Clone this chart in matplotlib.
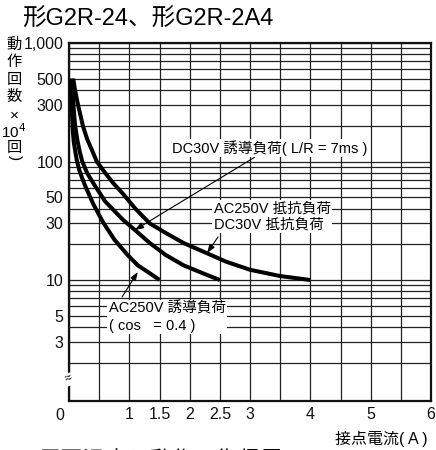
import numpy as np
import matplotlib
matplotlib.use("Agg")
import matplotlib.pyplot as plt
from matplotlib.transforms import ScaledTranslation

plt.rcParams['font.family'] = ['Liberation Sans', 'Noto Sans CJK JP']

# curves: contact current (A) vs operations (x10^4)
ac_ind_x = [0.03, 0.04, 0.05, 0.065, 0.08, 0.1, 0.13, 0.17, 0.22, 0.27, 0.4, 0.56, 0.75, 0.96, 1.14, 1.34, 1.5]
ac_ind_y = [500, 330, 250, 175, 145, 125, 102, 85, 72, 62, 44, 31, 22, 16.5, 13.3, 11.4, 10]

dc_ind_x = [0.05, 0.065, 0.08, 0.1, 0.14, 0.18, 0.22, 0.3, 0.4, 0.6, 0.9, 1.09, 1.34, 1.6, 1.9, 2.2, 2.5]
dc_ind_y = [500, 350, 270, 203, 150, 120, 100, 80, 66, 46, 32, 26.5, 20.5, 16.3, 13.3, 11.5, 10]

res_x = [0.07, 0.1, 0.15, 0.23, 0.3, 0.38, 0.46, 0.6, 0.73, 0.9, 1.1, 1.34, 1.6, 1.9, 2.29, 2.6, 3.0, 3.5, 4.0]
res_y = [500, 400, 300, 200, 155, 125, 100, 80, 66, 53, 40, 30, 25, 20.5, 16.8, 14.3, 12.2, 10.8, 10.0]

x_major = [0, 1, 1.5, 2, 2.5, 3, 4, 5, 6]
x_labels = ["0", "1", "1.5", "2", "2.5", "3", "4", "5", "6"]
x_minor = [0.5, 3.5, 4.5, 5.5]
y_major = [3, 5, 10, 30, 50, 100, 300, 500, 1000]
y_labels = ["3", "5", "10", "30", "50", "100", "300", "500", "1,000"]
y_minor = [2, 4, 6, 7, 8, 9, 20, 40, 60, 70, 80, 90, 200, 400, 600, 700, 800, 900]

fig = plt.figure(figsize=(4.36, 4.5), dpi=100)
ax = fig.add_axes([69 / 436, 1 - 401 / 450, 362 / 436, 358 / 450])

ax.set_yscale('log')
ax.set_xlim(0, 6)
ax.set_ylim(0.953, 1000)

ax.set_xticks(x_major)
ax.set_xticklabels(x_labels)
ax.set_xticks(x_minor, minor=True)
ax.set_yticks(y_major)
ax.set_yticklabels(y_labels)
ax.set_yticks(y_minor, minor=True)
ax.set_yticklabels([], minor=True)
ax.tick_params(which='both', length=0, labelsize=11.5, colors='#111')
ax.tick_params(axis='x', pad=4)
ax.tick_params(axis='y', pad=4)
ax.grid(which='both', color='#222', lw=0.9)
ax.set_axisbelow(True)
for s in ax.spines.values():
    s.set_linewidth(1.6)
    s.set_color('#111')

# "0" sits a little left and lower in the original
lab0 = ax.get_xticklabels()[0]
lab0.set_transform(lab0.get_transform() + ScaledTranslation(-9 / 100, -1 / 100, fig.dpi_scale_trans))

for xs, ys in [(ac_ind_x, ac_ind_y), (dc_ind_x, dc_ind_y), (res_x, res_y)]:
    ax.plot(xs, ys, color='black', lw=2.9, solid_capstyle='butt', solid_joinstyle='round', zorder=3)

box = dict(facecolor='white', edgecolor='none', pad=1.0)
arw = dict(arrowstyle='-|>,head_length=0.5,head_width=0.18', color='black', lw=0.8,
           shrinkA=0, shrinkB=0)

ax.annotate("DC30V 誘導負荷( L/R = 7ms )", xy=(1.09, 26.4), xytext=(1.71, 130),
            fontsize=10.5, ha='left', va='center', bbox=box, arrowprops=arw, zorder=4)
ax.text(2.40, 34.4, "AC250V 抵抗負荷\nDC30V 抵抗負荷",
        fontsize=10.5, ha='left', va='center', linespacing=1.2, bbox=box, zorder=4)
ax.annotate("", xy=(2.29, 16.9), xytext=(2.47, 23.1), arrowprops=arw, zorder=4)
ax.text(0.66, 4.85, "AC250V 誘導負荷\n( cos   = 0.4 )",
        fontsize=10.5, ha='left', va='center', linespacing=1.25, bbox=box, zorder=4)
ax.annotate("", xy=(1.14, 11.7), xytext=(0.88, 7.2), arrowprops=arw, zorder=4)

# axis break mark
ax.text(0, 1.45, "≈", fontsize=9, ha='center', va='center', rotation=20,
        bbox=dict(facecolor='white', edgecolor='none', pad=0.2), zorder=5, clip_on=False)

fig.text(22 / 436, 1 - 20 / 450, "形G2R-24、形G2R-2A4", fontsize=17, ha='left', va='center')
fig.text(428 / 436, 1 - 439 / 450, "接点電流( A )", fontsize=11.5, ha='right', va='center')

ylab = ["動", "作", "回", "数", "×", "10$^4$", "回"]
ylab_y = [45, 62, 80, 97, 116, 132, 148]
for t, yy in zip(ylab, ylab_y):
    fig.text(14 / 436, 1 - yy / 450, t, fontsize=11, ha='center', va='center')
fig.text(15 / 436, 1 - 158 / 450, ")", fontsize=11, rotation=-90, ha='center', va='center')

fig.text(38 / 436, 1 - 461 / 450, "周囲温度と動作・復帰電圧", fontsize=16, ha='left', va='center')

fig.savefig("out.png", dpi=100)
